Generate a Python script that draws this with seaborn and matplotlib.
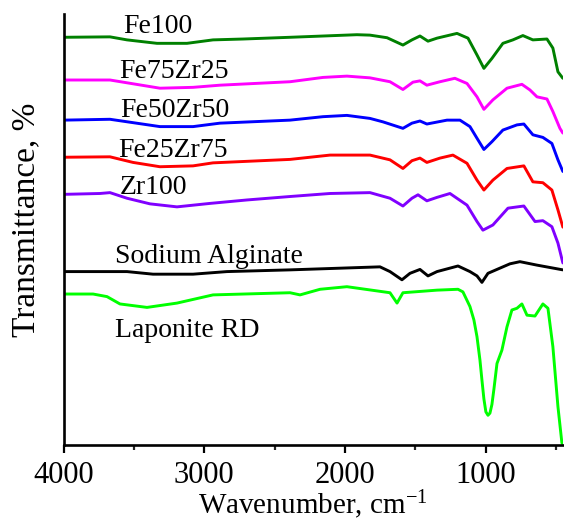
import matplotlib
matplotlib.use("Agg")
import matplotlib.pyplot as plt
from matplotlib.ticker import MultipleLocator
import pandas as pd
import seaborn as sns

# FTIR spectra (wavenumber in cm^-1, stacked transmittance in %)
fe100_wn = [4000, 3670, 3549, 3336, 3123, 2938, 2725, 2391, 1916, 1823, 1702, 1589, 1525,
            1468, 1411, 1347, 1205, 1127, 1063, 1014, 957, 879, 808, 737, 666, 566, 524, 488, 453]
fe100_t = [94.6, 94.7, 94.0, 93.2, 93.2, 94.0, 94.2, 94.6, 95.2, 95.1, 94.5, 92.8, 94.0,
           94.9, 93.7, 94.4, 95.5, 94.4, 90.5, 87.4, 89.7, 93.2, 94.0, 95.0, 94.0, 94.2, 92.1, 86.6, 85.1]

fe75zr25_wn = [4000, 3670, 3315, 3080, 2889, 2391, 2157, 1987, 1823, 1681, 1589, 1518, 1468,
               1419, 1326, 1220, 1134, 1063, 1014, 950, 850, 744, 687, 637, 566, 524, 474, 453]
fe75zr25_t = [84.7, 84.7, 82.8, 83.0, 83.5, 84.3, 85.3, 85.6, 85.2, 84.3, 82.5, 84.2, 84.5,
              83.5, 84.3, 85.1, 83.9, 80.8, 77.9, 80.1, 82.8, 83.7, 82.4, 80.8, 80.3, 77.4, 73.5, 72.4]

fe50zr50_wn = [4000, 3670, 3315, 3080, 2889, 2391, 2157, 1987, 1823, 1731, 1589, 1525, 1468,
               1419, 1276, 1184, 1113, 1063, 1014, 957, 879, 779, 730, 666, 595, 531, 488, 453]
fe50zr50_t = [75.4, 75.6, 73.9, 73.9, 74.7, 75.4, 76.2, 76.5, 75.8, 75.0, 73.5, 74.7, 75.2,
              74.5, 75.4, 75.4, 73.9, 71.2, 68.6, 70.4, 73.1, 74.3, 74.5, 72.0, 71.4, 70.0, 66.2, 63.5]

fe25zr75_wn = [4000, 3670, 3506, 3315, 3080, 2938, 2391, 2107, 1823, 1681, 1589, 1525, 1468,
               1419, 1326, 1234, 1134, 1063, 1014, 950, 850, 730, 666, 595, 531, 488, 453]
fe25zr75_t = [66.8, 66.9, 65.6, 64.6, 64.8, 65.5, 66.3, 67.3, 67.3, 66.2, 64.2, 66.0, 66.6,
              65.6, 66.6, 67.3, 65.4, 61.5, 59.2, 61.5, 64.2, 64.8, 61.1, 60.9, 59.2, 54.6, 50.6]

zr100_wn = [4000, 3741, 3670, 3549, 3386, 3194, 2960, 2697, 2391, 2107, 1823, 1681, 1589, 1525,
            1482, 1419, 1347, 1255, 1134, 1063, 1021, 950, 843, 730, 651, 595, 531, 488, 453]
zr100_t = [58.2, 58.4, 58.6, 57.3, 56.0, 55.3, 56.1, 56.9, 57.7, 58.4, 58.6, 57.3, 55.5, 57.3,
           58.1, 56.7, 57.5, 58.4, 55.7, 51.9, 49.9, 51.1, 55.0, 55.5, 51.9, 52.1, 50.7, 46.9, 42.3]

alginate_wn = [4000, 3549, 3364, 3080, 2839, 2391, 1752, 1681, 1596, 1539, 1468, 1411, 1347,
               1198, 1113, 1063, 1028, 985, 900, 829, 758, 637, 453]
alginate_t = [40.3, 40.3, 39.7, 39.7, 40.3, 40.7, 41.4, 40.3, 38.4, 39.9, 40.8, 39.3, 40.3,
              41.6, 40.3, 39.3, 37.8, 39.9, 41.1, 42.1, 42.6, 41.8, 40.7]

laponite_wn = [4000, 3790, 3691, 3599, 3407, 3194, 2938, 2391, 2320, 2178, 1987, 1681, 1631,
               1589, 1347, 1198, 1163, 1113, 1085, 1063, 1042, 1028, 1014, 1000, 985, 971, 957,
               943, 921, 886, 850, 815, 779, 744, 708, 651, 595, 559, 524, 488, 460, 453]
laponite_t = [35.1, 35.1, 34.5, 32.8, 32.0, 33.0, 34.9, 35.4, 34.9, 36.2, 36.8, 35.4, 33.0,
              35.4, 36.0, 36.2, 35.6, 32.2, 29.1, 25.2, 19.8, 15.2, 10.8, 7.8, 7.0, 7.5, 9.5,
              13.0, 19.0, 22.1, 27.5, 31.4, 31.8, 32.8, 30.2, 30.0, 32.8, 31.8, 22.9, 9.0, 0.6, 0.3]

sample_names = ["Fe100", "Fe75Zr25", "Fe50Zr50", "Fe25Zr75", "Zr100",
                "Sodium Alginate", "Laponite RD"]
sample_colors = ["#008000", "#FF00FF", "#0000FF", "#FF0000", "#8000FF", "#000000", "#00FF00"]

spectra = [(fe100_wn, fe100_t), (fe75zr25_wn, fe75zr25_t), (fe50zr50_wn, fe50zr50_t),
           (fe25zr75_wn, fe25zr75_t), (zr100_wn, zr100_t), (alginate_wn, alginate_t),
           (laponite_wn, laponite_t)]

df = pd.concat(
    [pd.DataFrame({"wavenumber": wn, "transmittance": t, "sample": name})
     for name, (wn, t) in zip(sample_names, spectra)],
    ignore_index=True,
)

sns.set_theme(style="ticks")
plt.rcParams["font.family"] = ["Liberation Serif", "DejaVu Serif"]
plt.rcParams["mathtext.fontset"] = "custom"
plt.rcParams["mathtext.rm"] = "Liberation Serif"
plt.rcParams["mathtext.it"] = "Liberation Serif:italic"

fig = plt.figure(figsize=(5.64, 5.2), dpi=100)
ax = fig.add_axes([0.1126, 0.1433, 0.8854, 0.8298])

sns.lineplot(data=df, x="wavenumber", y="transmittance", hue="sample",
             hue_order=sample_names, palette=dict(zip(sample_names, sample_colors)),
             estimator=None, sort=False, linewidth=2.1, legend=False, ax=ax)

ax.set_xlim(4000, 453)
ax.set_ylim(0, 100)
ax.xaxis.set_major_locator(MultipleLocator(1000))
ax.xaxis.set_minor_locator(MultipleLocator(500))
ax.set_yticks([])
ax.tick_params(axis="x", which="major", direction="out", length=6, width=1.6,
               labelsize=22, pad=5, colors="black")
ax.tick_params(axis="x", which="minor", direction="out", length=3.5, width=1.6)
for side in ("top", "right"):
    ax.spines[side].set_visible(False)
for side in ("left", "bottom"):
    ax.spines[side].set_linewidth(1.9)
    ax.spines[side].set_color("black")

ax.set_xlabel("Wavenumber, cm$^{\\mathrm{-1}}$", fontsize=21, labelpad=-1, color="black")
ax.set_ylabel("")
fig.text(0.046, 0.577, "Transmittance, %", rotation=90, ha="center", va="center",
         fontsize=24, color="black")

# curve labels, placed just above each trace
label_pos = [(3577, 95.6), (3606, 85.2), (3599, 76.2), (3613, 66.9), (3599, 58.3),
             (3634, 42.3), (3634, 25.1)]
for name, (lx, ly) in zip(sample_names, label_pos):
    ax.text(lx, ly, name, ha="left", va="baseline", fontsize=20, color="black")

fig.savefig("out.png", dpi=100)
